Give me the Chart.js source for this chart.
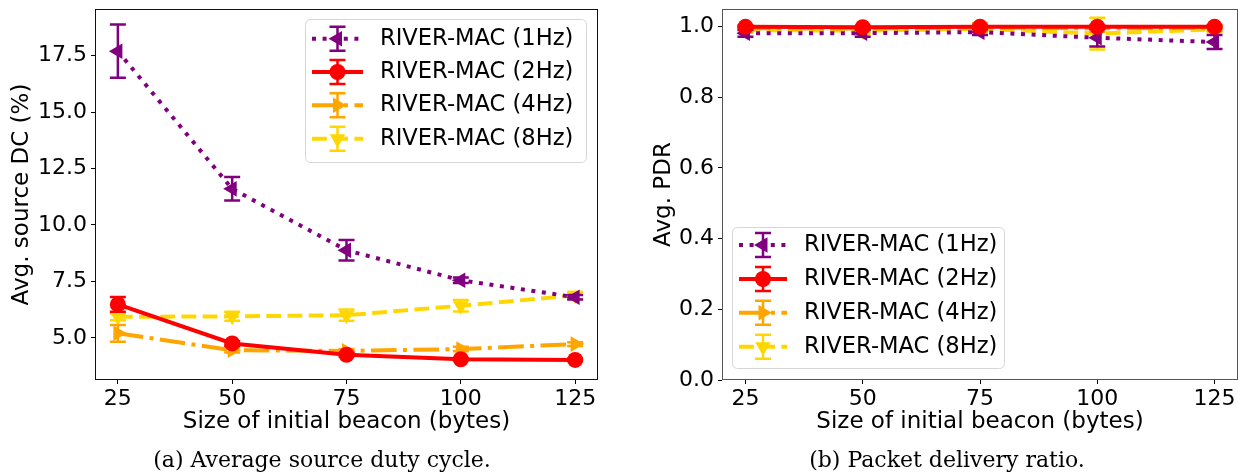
<!DOCTYPE html>
<html>
<head>
<meta charset="utf-8">
<script src="https://cdn.jsdelivr.net/npm/chart.js@4.4.0/dist/chart.umd.min.js"></script>
<style>
  body { margin: 0; background: #fff; width: 1247px; height: 474px; position: relative; overflow: hidden; }
  .panel { position: absolute; top: 0; height: 474px; }
  .caption { position: absolute; top: 447px; font-family: "DejaVu Serif", serif; font-size: 22px; color: #000; white-space: nowrap; transform: translateX(-50%); }
</style>
</head>
<body>
<div class="panel" style="left:0;width:620px"><canvas id="dcChart"></canvas></div>
<div class="panel" style="left:620px;width:627px"><canvas id="pdrChart"></canvas></div>
<div class="caption" style="left:322px">(a) Average source duty cycle.</div>
<div class="caption" style="left:947px">(b) Packet delivery ratio.</div>
<script>
// beacon sizes (bytes) and tick values
const beaconSizes = [25, 50, 75, 100, 125];
const dcTicks = [5.0, 7.5, 10.0, 12.5, 15.0, 17.5];
const pdrTicks = [0.0, 0.2, 0.4, 0.6, 0.8, 1.0];
const seriesLabels = ['RIVER-MAC (1Hz)', 'RIVER-MAC (2Hz)', 'RIVER-MAC (4Hz)', 'RIVER-MAC (8Hz)'];

// average source duty cycle (%) and std errors
const dc1Hz = [17.7, 11.6, 8.88, 7.55, 6.8];
const dc1HzErr = [1.18, 0.52, 0.45, 0.12, 0.1];
const dc2Hz = [6.48, 4.75, 4.25, 4.05, 4.02];
const dc2HzErr = [0.33, 0.1, 0.08, 0.06, 0.05];
const dc4Hz = [5.2, 4.45, 4.42, 4.5, 4.72];
const dc4HzErr = [0.37, 0.1, 0.08, 0.1, 0.08];
const dc8Hz = [5.93, 5.95, 6.0, 6.42, 6.88];
const dc8HzErr = [0.15, 0.2, 0.25, 0.25, 0.15];

// packet delivery ratio and std errors
const pdr1Hz = [0.981, 0.981, 0.984, 0.968, 0.956];
const pdr1HzErr = [0.01, 0.01, 0.008, 0.025, 0.02];
const pdr2Hz = [0.999, 0.998, 0.999, 0.999, 0.999];
const pdr2HzErr = [0.003, 0.003, 0.003, 0.003, 0.003];
const pdr4Hz = [0.995, 0.994, 0.997, 0.995, 0.996];
const pdr4HzErr = [0.008, 0.008, 0.012, 0.01, 0.008];
const pdr8Hz = [0.99, 0.988, 0.993, 0.98, 0.992];
const pdr8HzErr = [0.008, 0.01, 0.01, 0.045, 0.008];

Chart.defaults.font.family = 'DejaVu Sans';
Chart.defaults.font.size = 22;
Chart.defaults.color = '#000';

const styles = [
  { color: '#800080', dash: [4, 6.6], pointStyle: 'triangle', rotation: -90, radius: 9 },
  { color: '#ff0000', dash: [], pointStyle: 'circle', rotation: 0, radius: 8 },
  { color: '#ffa500', dash: [25.6, 6.4, 4, 6.4], pointStyle: 'triangle', rotation: 90, radius: 9 },
  { color: '#ffd700', dash: [14.8, 6.4], pointStyle: 'triangle', rotation: 180, radius: 9 }
];

function makeDatasets(values, errors) {
  return values.map((vals, i) => ({
    label: seriesLabels[i],
    data: beaconSizes.map((x, j) => ({ x: x, y: vals[j] })),
    errors: errors[i],
    borderColor: styles[i].color,
    backgroundColor: styles[i].color,
    borderWidth: 4,
    borderDash: styles[i].dash,
    borderCapStyle: 'butt',
    pointStyle: styles[i].pointStyle,
    pointRotation: styles[i].rotation,
    pointRadius: styles[i].radius,
    pointBorderWidth: 0,
    pointBackgroundColor: styles[i].color,
    tension: 0,
    order: [1, 0, 2, 3][i]
  }));
}

// vertical error bars with caps, drawn just under each series
const errorBars = {
  id: 'errorBars',
  beforeDatasetDraw(chart, args) {
    const ds = chart.data.datasets[args.index];
    if (!ds.errors) return;
    const ys = chart.scales.y;
    const ctx = chart.ctx;
    ctx.save();
    ctx.strokeStyle = ds.borderColor;
    ctx.lineWidth = 2.5;
    ctx.setLineDash([]);
    args.meta.data.forEach((pt, i) => {
      const v = ds.data[i].y, e = ds.errors[i];
      const top = ys.getPixelForValue(v + e), bot = ys.getPixelForValue(v - e);
      ctx.beginPath();
      ctx.moveTo(pt.x, top); ctx.lineTo(pt.x, bot);
      ctx.moveTo(pt.x - 8, top); ctx.lineTo(pt.x + 8, top);
      ctx.moveTo(pt.x - 8, bot); ctx.lineTo(pt.x + 8, bot);
      ctx.stroke();
    });
    ctx.restore();
  }
};

// axes box around the plot area
const frame = {
  id: 'frame',
  afterDatasetsDraw(chart, args, opts) {
    const a = chart.chartArea, ctx = chart.ctx;
    ctx.save();
    ctx.strokeStyle = opts.color;
    ctx.lineWidth = 1;
    ctx.strokeRect(a.left + 0.5, a.top + 0.5, a.right - a.left - 1, a.bottom - a.top - 1);
    ctx.restore();
  }
};

// boxed legend with line, error bar and marker handles
const boxLegend = {
  id: 'boxLegend',
  afterDraw(chart, args, o) {
    const ctx = chart.ctx;
    ctx.save();
    ctx.beginPath();
    ctx.roundRect(o.x + 0.5, o.y + 0.5, o.w, o.h, 5);
    ctx.fillStyle = 'rgba(255,255,255,0.8)';
    ctx.fill();
    ctx.strokeStyle = '#d6d6d6';
    ctx.lineWidth = 1;
    ctx.stroke();
    const cx = (o.h0 + o.h1) / 2;
    chart.data.datasets.forEach((ds, i) => {
      const y = o.rows[i];
      ctx.strokeStyle = ds.borderColor;
      ctx.lineWidth = ds.borderWidth;
      ctx.lineCap = 'butt';
      ctx.setLineDash(ds.borderDash);
      ctx.beginPath();
      ctx.moveTo(o.h0, y); ctx.lineTo(o.h1, y);
      ctx.stroke();
      ctx.setLineDash([]);
      ctx.lineWidth = 2.5;
      ctx.beginPath();
      ctx.moveTo(cx, y - 12); ctx.lineTo(cx, y + 12);
      ctx.moveTo(cx - 8, y - 12); ctx.lineTo(cx + 8, y - 12);
      ctx.moveTo(cx - 8, y + 12); ctx.lineTo(cx + 8, y + 12);
      ctx.stroke();
      ctx.fillStyle = ds.borderColor;
      Chart.helpers.drawPoint(ctx, { pointStyle: ds.pointStyle, rotation: ds.pointRotation, radius: ds.pointRadius, borderWidth: 0 }, cx, y);
      ctx.fillStyle = '#000';
      ctx.font = '22.6px "DejaVu Sans"';
      ctx.textBaseline = 'middle';
      ctx.textAlign = 'left';
      ctx.fillText(ds.label, o.textX, y);
    });
    ctx.restore();
  }
};

function makeChart(id, datasets, cfg) {
  return new Chart(document.getElementById(id), {
    type: 'line',
    data: { datasets: datasets },
    plugins: [errorBars, frame, boxLegend],
    options: {
      responsive: true,
      maintainAspectRatio: false,
      animation: false,
      devicePixelRatio: 1,
      layout: { padding: cfg.padding },
      plugins: {
        legend: { display: false },
        tooltip: { enabled: false },
        frame: { color: cfg.frameColor },
        boxLegend: cfg.legend
      },
      scales: {
        x: {
          type: 'linear',
          min: 20,
          max: 130,
          afterBuildTicks: s => { s.ticks = beaconSizes.map(v => ({ value: v })); },
          afterFit: s => { s.height = 94; s.paddingLeft = 0; s.paddingRight = 0; },
          ticks: { padding: 2, callback: v => String(v) },
          grid: { drawOnChartArea: false, drawTicks: true, tickLength: 4, color: '#000' },
          border: { display: false },
          title: { display: true, text: 'Size of initial beacon (bytes)', font: { size: 23 }, padding: { bottom: 38 } }
        },
        y: {
          min: cfg.yMin,
          max: cfg.yMax,
          afterBuildTicks: s => { s.ticks = cfg.yTicks.map(v => ({ value: v })); },
          afterFit: s => { s.width = cfg.yWidth; s.paddingTop = 0; s.paddingBottom = 0; },
          ticks: { padding: 4, callback: v => v.toFixed(1) },
          grid: { drawOnChartArea: false, drawTicks: true, tickLength: 4, color: '#000' },
          border: { display: false },
          title: { display: true, text: cfg.yTitle, font: { size: 23 }, padding: { top: cfg.yTitlePad } }
        }
      }
    }
  });
}

makeChart('dcChart',
  makeDatasets([dc1Hz, dc2Hz, dc4Hz, dc8Hz], [dc1HzErr, dc2HzErr, dc4HzErr, dc8HzErr]),
  {
    padding: { left: 0, top: 7, right: 22, bottom: 0 },
    yMin: 3.13, yMax: 19.57, yTicks: dcTicks, yWidth: 95,
    yTitle: 'Avg. source DC (%)', yTitlePad: 8,
    frameColor: '#111',
    legend: { x: 305, y: 19, w: 281, h: 143, h0: 312, h1: 363, textX: 380, rows: [38.7, 72, 105.3, 138.7] }
  });

makeChart('pdrChart',
  makeDatasets([pdr1Hz, pdr2Hz, pdr4Hz, pdr8Hz], [pdr1HzErr, pdr2HzErr, pdr4HzErr, pdr8HzErr]),
  {
    padding: { left: 30, top: 7, right: 7, bottom: 0 },
    yMin: 0, yMax: 1.0494, yTicks: pdrTicks, yWidth: 72,
    yTitle: 'Avg. PDR', yTitlePad: 0,
    frameColor: '#555',
    legend: { x: 112, y: 227, w: 272, h: 141, h0: 119, h1: 167, textX: 184, rows: [245, 279, 312.7, 346.7] }
  });
</script>
</body>
</html>
